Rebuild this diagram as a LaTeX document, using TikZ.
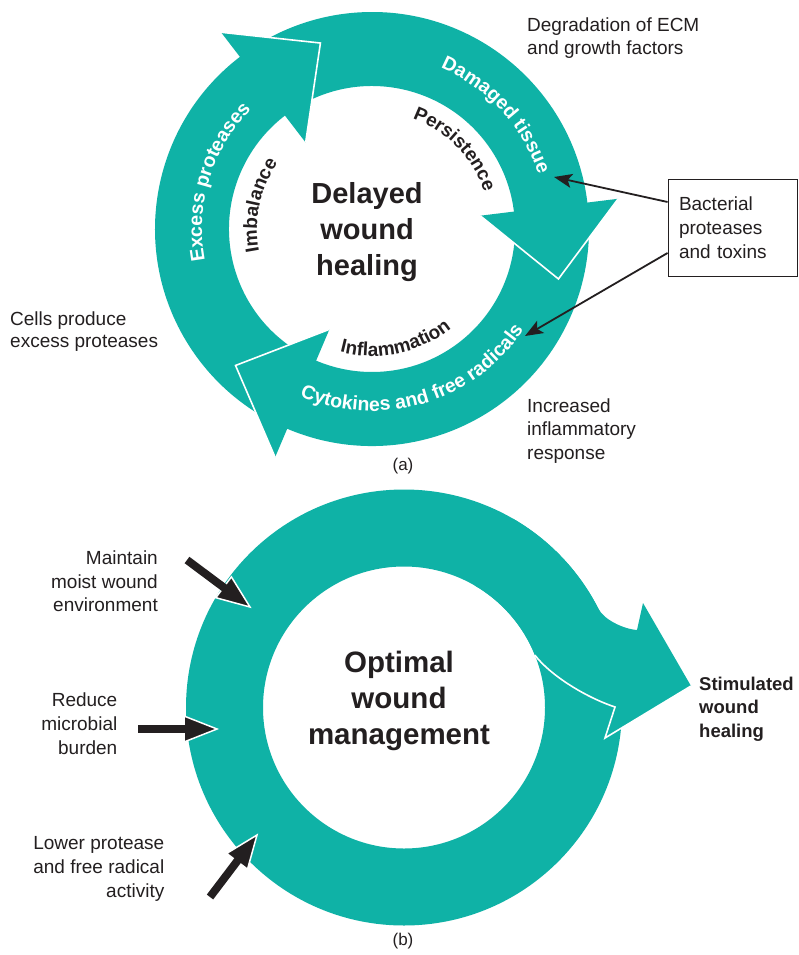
\documentclass[tikz,border=0pt]{standalone}
\usepackage{fontspec}
\setmainfont{Liberation Sans}
\usetikzlibrary{decorations.text, arrows.meta, calc}
\definecolor{tealc}{RGB}{15,178,166}
\definecolor{ink}{RGB}{35,31,32}
\tikzset{
  lbl/.style={font=\fontsize{19}{23}\selectfont, text=ink, inner sep=0pt, align=left},
  headline/.style={white, line width=1.6pt, line join=miter},
  boxarrow/.style={ink, line width=1.8pt, -{Stealth[length=18pt,width=14pt,inset=4pt]}},
  blackhead/.style={fill=ink, draw=white, line width=1.5pt, line join=miter},
  blackshaft/.style={ink, line width=8pt},
  bigtitle/.style={text=ink, align=center, inner sep=0pt}
}
\begin{document}
\begin{tikzpicture}[x=1pt,y=1pt]
\useasboundingbox (0,0) rectangle (798,-955);
\fill[white] (0,0) rectangle (798,-955);

% ---------------- (a) ----------------
\coordinate (A) at (372,-229);
\begin{scope}[shift={(372,-229)}]
  % bands
  \fill[tealc] (241:143) arc[start angle=241,end angle=125.5,radius=143] -- (125.5:217) arc[start angle=125.5,end angle=241,radius=217] -- cycle;
  \fill[tealc] (121.5:143) arc[start angle=121.5,end angle=5,radius=143] -- (5:217) arc[start angle=5,end angle=121.5,radius=217] -- cycle;
  \fill[tealc] (1:143) arc[start angle=1,end angle=-115,radius=143] -- (-115:217) arc[start angle=-115,end angle=1,radius=217] -- cycle;
  % heads
  \foreach \b in {127.5, 7, -113} {
    \fill[tealc] (\b:109) -- ({\b-22}:193) -- (\b:248) -- cycle;
    \draw[headline] (\b:109) -- ({\b-22}:193) -- (\b:248);
  }
  % texts on the bands
  \path[decorate, decoration={text along path, text align=center, text color=white,
     text={|\fontsize{19.5}{19.5}\selectfont\bfseries|Excess proteases}}]
     (205:170) arc[start angle=205,end angle=121,radius=170];
  \path[decorate, decoration={text along path, text align=center, text color=white,
     text={|\fontsize{19.5}{19.5}\selectfont\bfseries|Damaged tissue}}]
     (85:175) arc[start angle=85,end angle=0,radius=175];
  \path[decorate, decoration={text along path, text align=center, text color=white,
     text={|\fontsize{19.5}{19.5}\selectfont\bfseries|Cytokines and free radicals}}]
     (226:182) arc[start angle=226,end angle=347,radius=182];
  % inner texts
  \path[decorate, decoration={text along path, text align=center, text color=ink,
     text={|\fontsize{19}{19}\selectfont\bfseries|Imbalance}}]
     (213:115) arc[start angle=213,end angle=123,radius=115];
  \path[decorate, decoration={text along path, text align=center, text color=ink,
     text={|\fontsize{19}{19}\selectfont\bfseries|Persistence}}]
     (92:118) arc[start angle=92,end angle=-4,radius=118];
  \path[decorate, decoration={text along path, text align=center, text color=ink,
     text={|\fontsize{19}{19}\selectfont\bfseries|Inflammation}}]
     (227:127) arc[start angle=227,end angle=337,radius=127];
\end{scope}

\node[bigtitle, font=\fontsize{29}{36}\selectfont\bfseries] (delayed) at (367,-232) {Delayed\\wound\\healing};

\node[lbl, anchor=north west, font=\fontsize{19}{22.5}\selectfont] (degr) at (527,-18) {Degradation of ECM\\and growth factors};
\node[lbl, anchor=north west, font=\fontsize{19}{22}\selectfont] (cells) at (10,-311.3) {Cells produce\\excess proteases};
\node[lbl, anchor=north west, font=\fontsize{19}{23.5}\selectfont] (incr) at (527,-398.3) {Increased\\inflammatory\\response};

\node[draw=ink, line width=0.9pt, minimum width=129pt, minimum height=97pt, text width=107pt,
      inner xsep=11pt, inner ysep=0pt, align=left, font=\fontsize{19}{24}\selectfont, text=ink]
      (bact) at (732.5,-227.5) {Bacterial\\proteases\\and toxins};
\coordinate (dt) at (554,-177);
\coordinate (cf) at (525,-336);
\draw[boxarrow] ($(bact.west)+(0,25.5)$) -- (dt);
\draw[boxarrow] ($(bact.west)+(0,-25.5)$) -- (cf);

\node[font=\fontsize{17}{17}\selectfont, text=ink] (la) at (403,-466) {(a)};

% ---------------- (b) ----------------
\coordinate (B) at (404,-707.5);
\fill[tealc, even odd rule] (B) circle[radius=218] (B) circle[radius=141];
\begin{scope}[shift={(404,-707.5)}]
  \fill[tealc] (60:218) arc[start angle=60,end angle=27,radius=218]
     .. controls (199.4,88.3) and (219,78.5) .. (233,77.5)
     -- (239,104.5) -- (287,21.5) -- (201,-30.5) -- (211,0.5)
     .. controls (181,10.5) and (146,32.5) .. (21.8:141)
     arc[start angle=21.8,end angle=60,radius=141] -- cycle;
  \draw[headline] (21.8:141) .. controls (146,32.5) and (181,10.5) .. (211,0.5) -- (201,-30.5) -- (287,21.5);
\end{scope}

% black input arrows
\coordinate (s1) at (187,-560);
\coordinate (t1) at (250,-607);
\coordinate (s2) at (138,-729);
\coordinate (t2) at (217,-729);
\coordinate (s3) at (210,-897);
\coordinate (t3) at (257,-835);
\filldraw[blackhead] (215.8,-597.7) -- (t1) -- (231.4,-576.9) -- cycle;
\filldraw[blackhead] (184,-716) -- (t2) -- (184,-742) -- cycle;
\filldraw[blackhead] (247.5,-869.2) -- (t3) -- (226.7,-853.4) -- cycle;
\draw[blackshaft] (s1) -- ($(t1)!29pt!(s1)$);
\draw[blackshaft] (s2) -- ($(t2)!29pt!(s2)$);
\draw[blackshaft] (s3) -- ($(t3)!29pt!(s3)$);

\node[bigtitle, font=\fontsize{29.5}{36}\selectfont\bfseries] (optimal) at (399,-701) {Optimal\\wound\\management};

\node[lbl, align=right, anchor=north east, font=\fontsize{19}{23.7}\selectfont] (maint) at (158,-550.6) {Maintain\\moist wound\\environment};
\node[lbl, align=right, anchor=north east, font=\fontsize{19}{24}\selectfont] (reduce) at (117.5,-693) {Reduce\\microbial\\burden};
\node[lbl, align=right, anchor=north east, font=\fontsize{19}{24}\selectfont] (lower) at (164.5,-836.3) {Lower protease\\and free radical\\activity};
\node[lbl, anchor=north west, font=\fontsize{18.5}{23.5}\selectfont\bfseries] (stim) at (699,-676.4) {Stimulated\\wound\\healing};

\node[font=\fontsize{17}{17}\selectfont, text=ink] (lb) at (403,-941) {(b)};
\end{tikzpicture}
\end{document}
